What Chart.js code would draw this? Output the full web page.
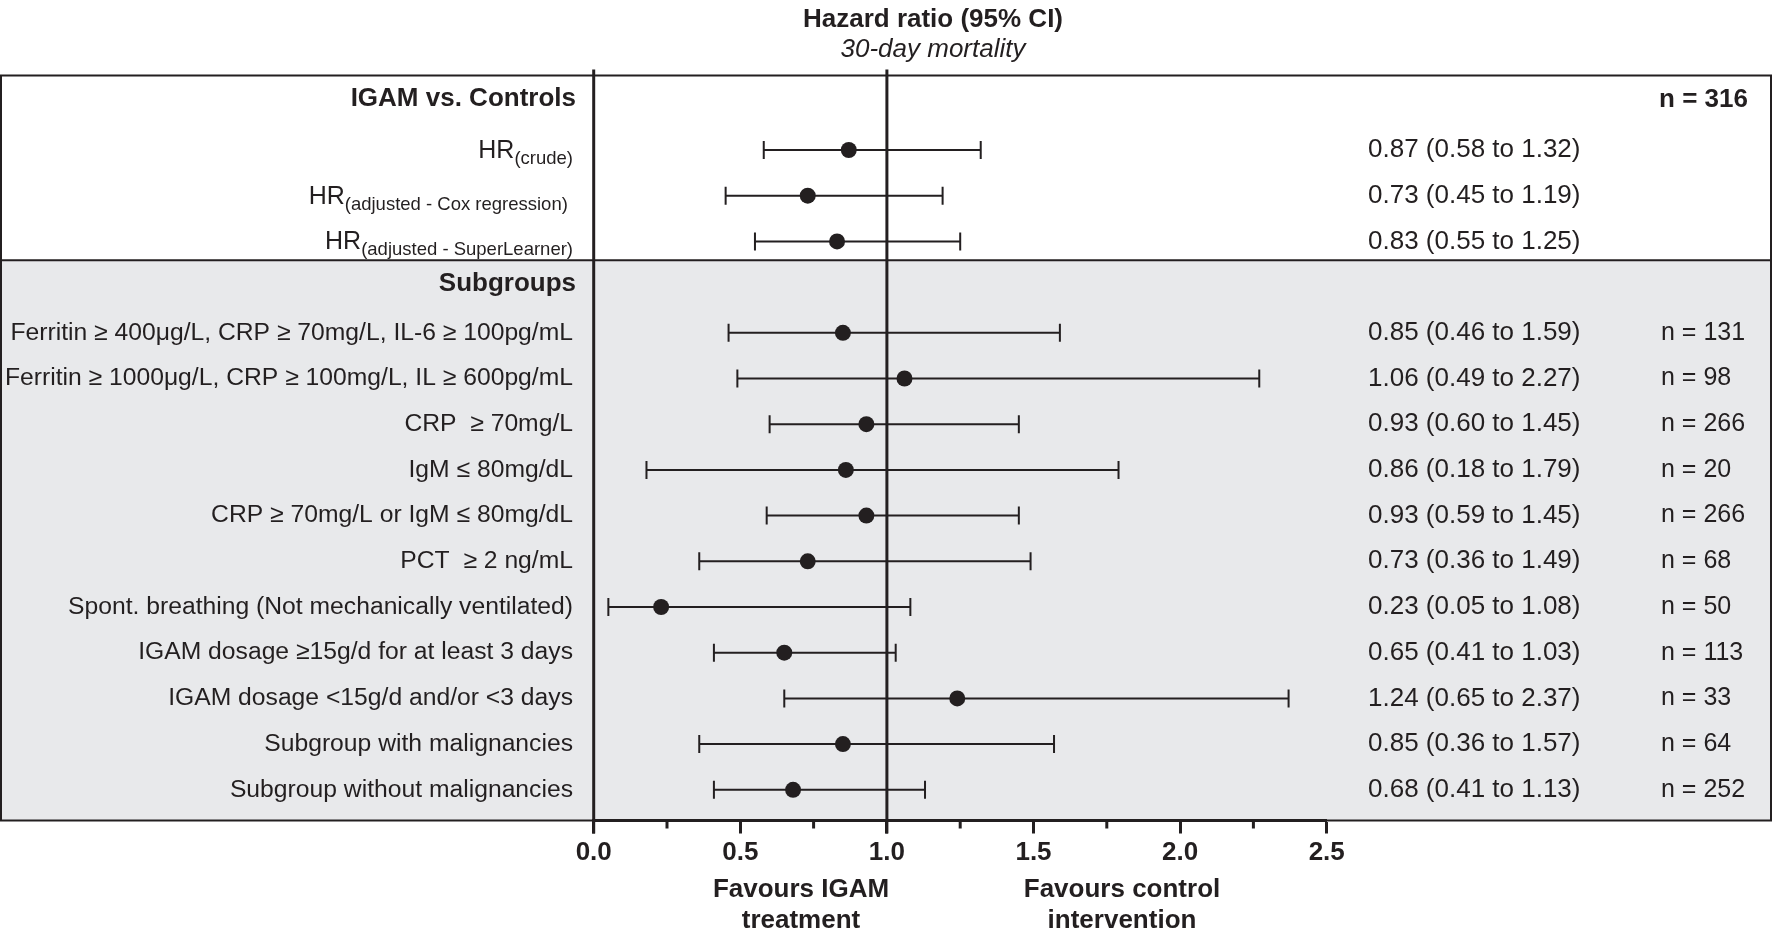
<!DOCTYPE html>
<html><head><meta charset="utf-8">
<script src="https://cdn.jsdelivr.net/npm/chart.js@4.4.0/dist/chart.umd.min.js"></script>
<style>html,body{margin:0;padding:0;background:#fff;}#wrap{width:1776px;height:936px;}</style>
</head><body><div id="wrap"><canvas id="c" width="1776" height="936"></canvas></div>
<script>
// ---------- data ----------
const rowLabels = ['HR','HR','HR',
  'Ferritin ≥ 400μg/L, CRP ≥ 70mg/L, IL-6 ≥ 100pg/mL',
  'Ferritin ≥ 1000μg/L, CRP ≥ 100mg/L, IL ≥ 600pg/mL',
  'CRP  ≥ 70mg/L',
  'IgM ≤ 80mg/dL',
  'CRP ≥ 70mg/L or IgM ≤ 80mg/dL',
  'PCT  ≥ 2 ng/mL',
  'Spont. breathing (Not mechanically ventilated)',
  'IGAM dosage ≥15g/d for at least 3 days',
  'IGAM dosage <15g/d and/or <3 days',
  'Subgroup with malignancies',
  'Subgroup without malignancies'];
const rowSubscripts = ['(crude)','(adjusted - Cox regression) ','(adjusted - SuperLearner)','','','','','','','','','','',''];
const rowIndex = [1,2,3,5,6,7,8,9,10,11,12,13,14,15];
const hr     = [0.87,0.73,0.83,0.85,1.06,0.93,0.86,0.93,0.73,0.23,0.65,1.24,0.85,0.68];
const ciLow  = [0.58,0.45,0.55,0.46,0.49,0.60,0.18,0.59,0.36,0.05,0.41,0.65,0.36,0.41];
const ciHigh = [1.32,1.19,1.25,1.59,2.27,1.45,1.79,1.45,1.49,1.08,1.03,2.37,1.57,1.13];
const nValues = [null,null,null,131,98,266,20,266,68,50,113,33,64,252];
const sectionHeaders = ['IGAM vs. Controls','Subgroups'];
const headerRows = [0,4];
const totalN = 'n = 316';
const majorTicks = [0,0.5,1,1.5,2,2.5];
const minorTicks = [0.25,0.75,1.25,1.75,2.25];
const refLines = [0,1];
const titleText = 'Hazard ratio (95% CI)';
const subtitleText = '30-day mortality';
const favoursLeft = ['Favours IGAM','treatment'];
const favoursRight = ['Favours control','intervention'];

// ---------- style ----------
const INK = '#231f20';
const GRAY = '#e8e9eb';
const FONT = '"Liberation Sans", Arial, Helvetica, sans-serif';

const boxPlugin = {
  id: 'box',
  beforeDraw(chart) {
    const {ctx, chartArea: ca, scales: {y}} = chart;
    ctx.save();
    ctx.fillStyle = '#fff';
    ctx.fillRect(0, 0, chart.width, chart.height);
    const sepY = y.getPixelForValue(3.415);
    ctx.fillStyle = GRAY;
    ctx.fillRect(1, sepY, 1770, ca.bottom - sepY);
    ctx.strokeStyle = INK;
    ctx.lineWidth = 2;
    ctx.strokeRect(1, ca.top, 1770, ca.bottom - ca.top);
    ctx.beginPath();
    ctx.moveTo(1, sepY); ctx.lineTo(1771, sepY);
    ctx.stroke();
    ctx.restore();
  },
  afterDraw(chart) {
    const {ctx, chartArea: ca, scales: {x}} = chart;
    ctx.save();
    ctx.strokeStyle = INK;
    ctx.lineWidth = 3;
    minorTicks.forEach(v => {
      const px = x.getPixelForValue(v);
      ctx.beginPath(); ctx.moveTo(px, ca.bottom); ctx.lineTo(px, ca.bottom + 8); ctx.stroke();
    });
    ctx.restore();
  }
};

const errorBarPlugin = {
  id: 'errbars',
  beforeDatasetsDraw(chart) {
    const {ctx, chartArea: ca, scales: {x, y}} = chart;
    ctx.save();
    ctx.strokeStyle = INK;
    ctx.lineWidth = 3;
    refLines.forEach(v => {
      const px = x.getPixelForValue(v);
      ctx.beginPath(); ctx.moveTo(px, ca.top - 6); ctx.lineTo(px, ca.bottom + 13); ctx.stroke();
    });
    ctx.lineWidth = 2;
    hr.forEach((v, i) => {
      const py = y.getPixelForValue(rowIndex[i]);
      const x0 = x.getPixelForValue(ciLow[i]);
      const x1 = x.getPixelForValue(ciHigh[i]);
      ctx.beginPath();
      ctx.moveTo(x0, py); ctx.lineTo(x1, py);
      ctx.moveTo(x0, py - 9); ctx.lineTo(x0, py + 9);
      ctx.moveTo(x1, py - 9); ctx.lineTo(x1, py + 9);
      ctx.stroke();
    });
    ctx.restore();
  }
};

const textPlugin = {
  id: 'texts',
  afterDraw(chart) {
    const {ctx, scales: {x, y}} = chart;
    ctx.save();
    ctx.fillStyle = INK;
    ctx.textAlign = 'center'; ctx.textBaseline = 'middle';
    ctx.font = 'bold 26px ' + FONT;
    ctx.fillText(titleText, 933, 20);
    ctx.font = 'italic 26px ' + FONT;
    ctx.fillText(subtitleText, 933, 50);
    ctx.textAlign = 'right';
    ctx.font = 'bold 26px ' + FONT;
    ctx.fillText(sectionHeaders[0], 576, y.getPixelForValue(headerRows[0]) - 5);
    ctx.fillText(sectionHeaders[1], 576, y.getPixelForValue(headerRows[1]) - 3);
    ctx.font = 'bold 26px ' + FONT;
    ctx.fillText(totalN, 1748, y.getPixelForValue(0) - 4);
    rowLabels.forEach((lab, i) => {
      const py = y.getPixelForValue(rowIndex[i]);
      if (rowSubscripts[i]) {
        ctx.textBaseline = 'alphabetic';
        ctx.font = '18.5px ' + FONT;
        const w = ctx.measureText(rowSubscripts[i]).width;
        ctx.fillText(rowSubscripts[i], 573, py + 14);
        ctx.font = '25px ' + FONT;
        ctx.fillText(lab, 573 - w, py + 8);
      } else {
        ctx.textBaseline = 'middle';
        ctx.font = '24.7px ' + FONT;
        ctx.fillText(lab, 573, py);
      }
    });
    ctx.textBaseline = 'middle';
    ctx.textAlign = 'left';
    hr.forEach((v, i) => {
      const py = y.getPixelForValue(rowIndex[i]);
      ctx.font = '26px ' + FONT;
      const s = v.toFixed(2) + ' (' + ciLow[i].toFixed(2) + ' to ' + ciHigh[i].toFixed(2) + ')';
      ctx.fillText(s, 1368, py);
      if (nValues[i] !== null) {
        ctx.font = '25px ' + FONT;
        ctx.fillText('n = ' + nValues[i], 1661, py);
      }
    });
    ctx.textAlign = 'center';
    ctx.font = 'bold 26px ' + FONT;
    favoursLeft.forEach((t, k) => ctx.fillText(t, 801, 890 + k * 31));
    favoursRight.forEach((t, k) => ctx.fillText(t, 1122, 890 + k * 31));
    ctx.restore();
  }
};

new Chart(document.getElementById('c').getContext('2d'), {
  type: 'scatter',
  data: {
    datasets: [{
      data: hr.map((v, i) => ({x: v, y: rowIndex[i]})),
      pointRadius: 8, pointHoverRadius: 8,
      backgroundColor: INK, borderWidth: 0
    }]
  },
  options: {
    responsive: false, animation: false, devicePixelRatio: 1,
    layout: {padding: {left: 593.7, right: 449.3, top: 75.5, bottom: 0}},
    plugins: {legend: {display: false}, tooltip: {enabled: false}},
    scales: {
      x: {
        type: 'linear', min: 0, max: 2.5, position: 'bottom',
        afterFit: s => { s.height = 115.5; },
        afterBuildTicks: s => { s.ticks = majorTicks.map(v => ({value: v})); },
        grid: {drawOnChartArea: false, drawTicks: true, tickLength: 13, tickWidth: 3, tickColor: INK},
        border: {display: true, width: 3, color: INK},
        ticks: {padding: 4, color: INK, maxRotation: 0, autoSkip: false,
          font: {family: FONT, size: 26, weight: 'bold'},
          callback: v => Number(v).toFixed(1)}
      },
      y: {type: 'linear', reverse: true, min: -0.63, max: 15.672, display: false}
    }
  },
  plugins: [boxPlugin, errorBarPlugin, textPlugin]
});
</script>
</body></html>
